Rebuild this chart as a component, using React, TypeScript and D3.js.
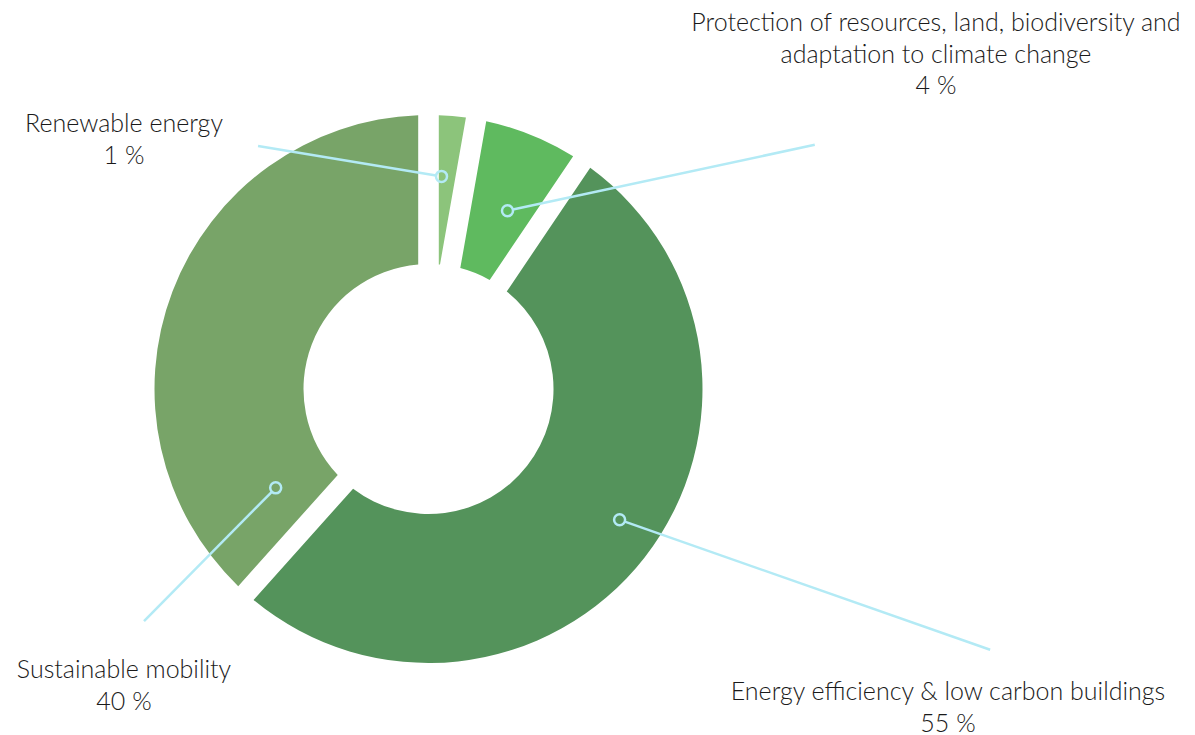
import React from "react";
import * as d3 from "d3";

// Categories in drawing order (clockwise from 12 o'clock)
const categories = [
  "Renewable energy",
  "Protection of resources, land, biodiversity and adaptation to climate change",
  "Energy efficiency & low carbon buildings",
  "Sustainable mobility",
];
// Share of the ring each slice occupies
const sliceShares = [2.78, 6.67, 52.17, 38.38];
// Percentages printed in the labels
const labelPercents = [1, 4, 55, 40];
// Label text lines
const labelLines = [
  ["Renewable energy"],
  ["Protection of resources, land, biodiversity and", "adaptation to climate change"],
  ["Energy efficiency & low carbon buildings"],
  ["Sustainable mobility"],
];
const colors = ["#8cc47b", "#5fba5f", "#54935b", "#78a468"];

// Layout (degrees clockwise from top, radius from centre) for leader lines
const anchorAngle = [3.5, 23.9, 124.4, 237.1];
const anchorRadius = [213, 195, 231.6, 182];
const lineEndAngle = [324.95, 57.7, 114.9, 230.8];
const lineEndRadius = [296.8, 457, 619.2, 367.1];
const labelX = [124, 936, 948, 124];
const labelTopBaseline = [132, 31, 700, 678];

const W = 1195;
const H = 735;
const cx = 428.5;
const cy = 389;
const outerR = 274;
const innerR = 125;
const halfGap = 10.3;
const lineGap = 31.5;

const fontFamily = "Lato, 'Open Sans', sans-serif";

export default function App() {
  const pie = d3
    .pie<number>()
    .sort(null)
    .value((d) => d)
    .startAngle(0)
    .endAngle(2 * Math.PI);
  const arcs = pie(sliceShares);
  const arc = d3
    .arc<d3.PieArcDatum<number>>()
    .innerRadius(innerR)
    .outerRadius(outerR)
    .padRadius(outerR)
    .padAngle(2 * Math.asin(halfGap / outerR));

  const polar = (deg: number, r: number): [number, number] => {
    const a = (deg * Math.PI) / 180;
    return [cx + r * Math.sin(a), cy - r * Math.cos(a)];
  };

  return (
    <svg
      width={W}
      height={H}
      style={{ position: "absolute", left: 0, top: 0, background: "#fff" }}
    >
      <g transform={`translate(${cx},${cy})`}>
        {arcs.map((a, i) => (
          <path key={categories[i]} d={arc(a) || ""} fill={colors[i]} />
        ))}
      </g>
      {categories.map((c, i) => {
        const [ax, ay] = polar(anchorAngle[i], anchorRadius[i]);
        const [ex, ey] = polar(lineEndAngle[i], lineEndRadius[i]);
        const dx = ex - ax;
        const dy = ey - ay;
        const len = Math.hypot(dx, dy);
        const r = 5.5;
        return (
          <g key={c}>
            <line
              x1={ax + (dx / len) * r}
              y1={ay + (dy / len) * r}
              x2={ex}
              y2={ey}
              stroke="#b3eaf5"
              strokeWidth={2.5}
            />
            <circle cx={ax} cy={ay} r={r} fill="none" stroke="#b3eaf5" strokeWidth={2.5} />
          </g>
        );
      })}
      {categories.map((c, i) => {
        const lines = [...labelLines[i], `${labelPercents[i]} %`];
        return (
          <text
            key={c + "-label"}
            x={labelX[i]}
            y={labelTopBaseline[i]}
            textAnchor="middle"
            fontFamily={fontFamily}
            fontWeight={300}
            fontSize={25}
            fill="#1a1a1a"
          >
            {lines.map((l, j) => (
              <tspan key={j} x={labelX[i]} y={labelTopBaseline[i] + j * lineGap}>
                {l}
              </tspan>
            ))}
          </text>
        );
      })}
    </svg>
  );
}
